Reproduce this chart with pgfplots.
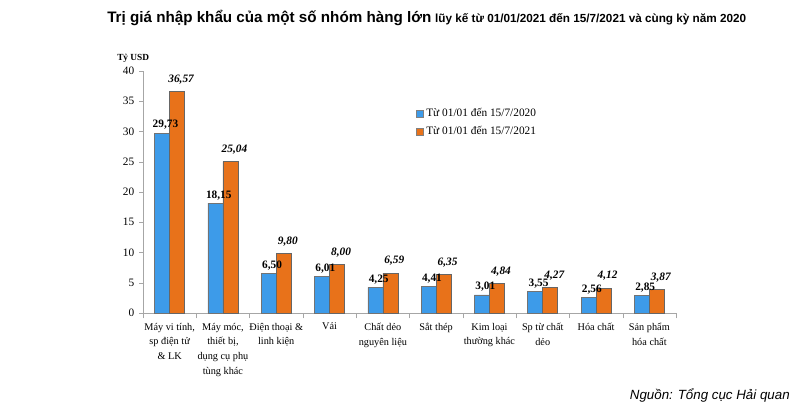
\documentclass[border=0pt]{standalone}
\usepackage{fontspec}
\setmainfont{Liberation Serif}
\newfontfamily\arial{Liberation Sans}
\usepackage{pgfplots}
\usepackage{pgfplotstable}
\pgfplotsset{compat=1.18}
\definecolor{cblue}{RGB}{61,155,233}
\definecolor{corange}{RGB}{232,114,26}
\pgfplotstableread{
x y label
0 29.73 29,73
1 18.15 18,15
2 6.50 6,50
3 6.01 6,01
4 4.25 4,25
5 4.41 4,41
6 3.01 3,01
7 3.55 3,55
8 2.56 2,56
9 2.85 2,85
}\tblA
\pgfplotstableread{
x y label
0 36.57 36,57
1 25.04 25,04
2 9.80 9,80
3 8.00 8,00
4 6.59 6,59
5 6.35 6,35
6 4.84 4,84
7 4.27 4,27
8 4.12 4,12
9 3.87 3,87
}\tblB
\begin{document}
\begin{tikzpicture}
\path[use as bounding box] (0,0) rectangle (600pt,312pt);
\begin{axis}[
  at={(107.25pt,77.25pt)}, anchor=south west,
  scale only axis, width=399.75pt, height=181.5pt,
  xmin=-0.5, xmax=9.5, ymin=0, ymax=40,
  axis x line*=bottom, axis y line*=left,
  axis line style={gray!70},
  tick align=outside,
  ytick={0,5,...,40},
  major tick length=3pt,
  minor tick length=4pt,
  y tick style={gray!70},
  xtick={0,...,9},
  major x tick style={draw=none},
  minor xtick={-0.5,0.5,...,9.5},
  minor x tick style={gray!70},
  xticklabels={{Máy vi tính,\\sp điện tử\\\& LK},{Máy móc,\\thiết bị,\\dụng cụ phụ\\tùng khác},{Điện thoại \&\\linh kiện},{Vải},{Chất dẻo\\nguyên liệu},{Sắt thép},{Kim loại\\thường khác},{Sp từ chất\\dẻo},{Hóa chất},{Sản phẩm\\hóa chất}},
  xticklabel style={align=center, font=\fontsize{7.7}{11}\selectfont, yshift=-1pt},
  yticklabel style={font=\fontsize{8.5}{10}\selectfont},
  /pgf/number format/assume math mode=true,
  ybar, bar width=11.25pt,
  clip=false,
  point meta=explicit symbolic,
  nodes near coords,
  legend style={at={(0.505,0.868)}, anchor=north west, draw=none, fill=none,
    font=\fontsize{8.5}{10}\selectfont, row sep=2pt},
  legend cell align=left,
]
\addplot[fill=cblue, draw=black!55, bar shift=-5.625pt,
  every node near coord/.append style={font=\bfseries\fontsize{8.5}{10}\selectfont, xshift=2.5pt, yshift=-1pt},
  legend image code/.code={\draw[fill=cblue,draw=black!50] (0pt,-2.5pt) rectangle (5pt,2.5pt);}]
  table[x=x,y=y,meta=label]{\tblA};
\addlegendentry{Từ 01/01 đến 15/7/2020}
\addplot[fill=corange, draw=black!60, bar shift=5.625pt,
  every node near coord/.append style={font=\bfseries\itshape\fontsize{8.5}{10}\selectfont, xshift=3pt, yshift=2pt},
  legend image code/.code={\draw[fill=corange,draw=black!50] (0pt,-2.5pt) rectangle (5pt,2.5pt);}]
  table[x=x,y=y,meta=label]{\tblB};
\addlegendentry{Từ 01/01 đến 15/7/2021}
\end{axis}
\node[anchor=base west, inner sep=0] at (80.25pt,294.75pt) {\arial\bfseries{\fontsize{11.4}{13}\selectfont Trị giá nhập khẩu của một số nhóm hàng lớn} {\fontsize{8.8}{10}\selectfont lũy kế từ 01/01/2021 đến 15/7/2021 và cùng kỳ năm 2020}};
\node[anchor=west, inner sep=0] at (87.75pt,268.5pt) {\bfseries\fontsize{7}{8}\selectfont Tỷ USD};
\node[anchor=base east, inner sep=0] at (592.5pt,12pt) {\arial\itshape\fontsize{10}{12}\selectfont Nguồn: Tổng cục Hải quan};
\end{tikzpicture}
\end{document}
